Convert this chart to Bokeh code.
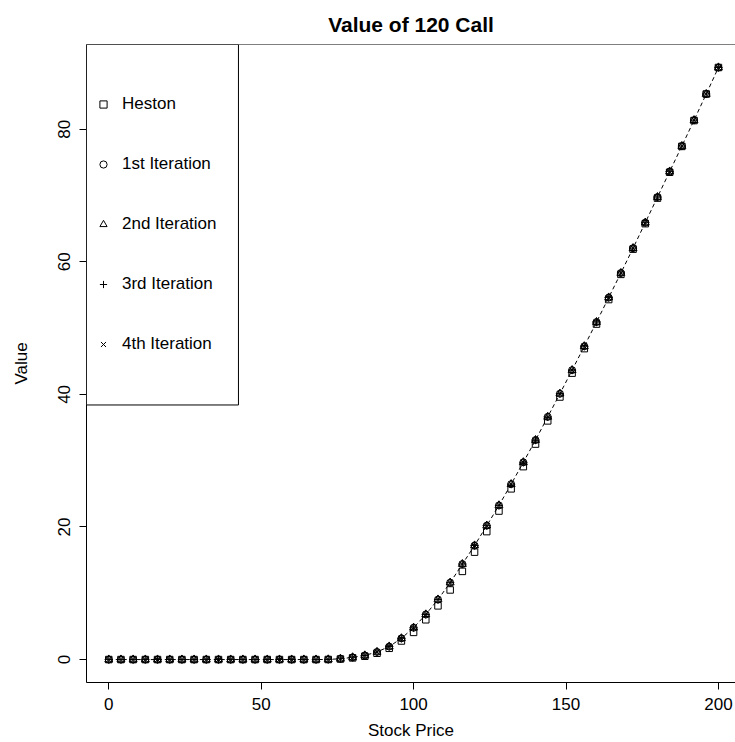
from bokeh.plotting import figure
from bokeh.models import Legend, LegendItem, Range1d, Span, BoxAnnotation
from bokeh.embed import file_html
from bokeh.resources import INLINE

# Stock prices from 0 to 200 in steps of 4
stock_price = list(range(0, 201, 4))

# Heston reference value of the 120-strike call
heston = [0.0] * 18 + [
    0.01, 0.08, 0.25, 0.5, 0.95, 1.7, 2.8, 4.1,
    6.0, 8.1, 10.5, 13.3, 16.2, 19.3, 22.4, 25.75,
    29.1, 32.5, 36.0, 39.6, 43.2, 46.9, 50.6, 54.3,
    58.1, 61.9, 65.75, 69.6, 73.5, 77.4, 81.3, 85.3,
    89.3,
]

# Successive iterations of the approximation
iter1 = [0.0] * 18 + [
    0.02, 0.12, 0.33, 0.62, 1.15, 1.96, 3.2, 4.8,
    6.8, 9.05, 11.6, 14.4, 17.2, 20.2, 23.25, 26.45,
    29.75, 33.1, 36.6, 40.1, 43.65, 47.25, 50.9, 54.6,
    58.3, 62.05, 65.9, 69.75, 73.6, 77.45, 81.35, 85.3,
    89.3,
]
iter2 = [0.0] * 18 + [
    0.02, 0.12, 0.33, 0.62, 1.15, 1.96, 3.2, 4.8,
    6.8, 9.05, 11.6, 14.4, 17.2, 20.2, 23.25, 26.45,
    29.75, 33.1, 36.6, 40.1, 43.65, 47.25, 50.9, 54.6,
    58.3, 62.05, 65.9, 69.75, 73.6, 77.45, 81.35, 85.3,
    89.3,
]
iter3 = [0.0] * 18 + [
    0.02, 0.12, 0.33, 0.62, 1.15, 1.96, 3.2, 4.8,
    6.8, 9.05, 11.6, 14.4, 17.2, 20.2, 23.25, 26.45,
    29.75, 33.1, 36.6, 40.1, 43.65, 47.25, 50.9, 54.6,
    58.3, 62.05, 65.9, 69.75, 73.6, 77.45, 81.35, 85.3,
    89.3,
]
iter4 = [0.0] * 18 + [
    0.02, 0.12, 0.33, 0.62, 1.15, 1.96, 3.2, 4.8,
    6.8, 9.05, 11.6, 14.4, 17.2, 20.2, 23.25, 26.45,
    29.75, 33.1, 36.6, 40.1, 43.65, 47.25, 50.9, 54.6,
    58.3, 62.05, 65.9, 69.75, 73.6, 77.45, 81.35, 85.3,
    89.3,
]

series_labels = ["Heston", "1st Iteration", "2nd Iteration", "3rd Iteration", "4th Iteration"]
x_ticks = [0, 50, 100, 150, 200]
y_ticks = [0, 20, 40, 60, 80]

FONT = "Liberation Sans"
X_LO, X_HI = -7.3, 205.6
Y_LO, Y_HI = -3.46, 92.77

p = figure(
    width=735, height=742,
    x_range=Range1d(X_LO, X_HI), y_range=Range1d(Y_LO, Y_HI),
    output_backend="svg", toolbar_location=None,
    min_border_left=86, min_border_right=0, min_border_top=44, min_border_bottom=59,
    title="Value of 120 Call",
)
p.outline_line_color = None
p.xgrid.visible = False
p.ygrid.visible = False
p.background_fill_color = "white"
p.border_fill_color = "white"

p.title.align = "center"
p.title.offset = 4
p.title.text_font = FONT
p.title.text_font_size = "21px"
p.title.text_font_style = "bold"
p.title.text_color = "black"
p.title.standoff = 18

for ax in (p.xaxis[0], p.yaxis[0]):
    ax.axis_line_color = "black"
    ax.major_tick_line_color = "black"
    ax.minor_tick_line_color = None
    ax.major_tick_in = 0
    ax.major_tick_out = 7
    ax.major_label_text_font = FONT
    ax.major_label_text_font_size = "17px"
    ax.major_label_text_color = "black"
    ax.axis_label_text_font = FONT
    ax.axis_label_text_font_size = "17px"
    ax.axis_label_text_font_style = "normal"
    ax.axis_label_text_color = "black"

p.xaxis.ticker = x_ticks
p.yaxis.ticker = y_ticks
p.xaxis.axis_label = "Stock Price"
p.yaxis.axis_label = "Value"
p.xaxis.major_label_standoff = 8
p.xaxis.axis_label_standoff = 8
p.yaxis.major_label_orientation = "vertical"
p.yaxis.major_label_standoff = 9
p.yaxis.axis_label_standoff = 25

# top edge of the plot box
p.add_layout(Span(location=Y_HI, dimension="width", line_color="black", line_width=1))

# dashed curve through the last iteration
p.line(stock_price, iter4, line_color="black", line_dash="4 3", line_width=1)

common = dict(line_color="black", fill_color=None, line_width=1)
r0 = p.scatter(stock_price, heston, marker="square", size=6.5, **common)
r1 = p.scatter(stock_price, iter1, marker="circle", size=7, **common)
r2 = p.scatter(stock_price, iter2, marker="triangle", size=8, **common)
r3 = p.scatter(stock_price, iter3, marker="cross", size=8, **common)
r4 = p.scatter(stock_price, iter4, marker="x", size=7, **common)

# framed white panel behind the legend entries
p.add_layout(BoxAnnotation(
    left=X_LO, right=42.55, top=Y_HI, bottom=38.4,
    fill_color="white", fill_alpha=1.0, line_color="black", line_width=1, line_alpha=1.0,
))

legend = Legend(
    items=[LegendItem(label=lab, renderers=[r]) for lab, r in zip(series_labels, [r0, r1, r2, r3, r4])],
    location=(8, 308), margin=0, padding=8, spacing=0,
    glyph_width=18, glyph_height=60, label_standoff=10, label_width=100,
    label_text_font=FONT, label_text_font_size="17px", label_text_color="black",
    border_line_color=None, background_fill_alpha=0.0,
)
p.add_layout(legend)

open("out.html", "w").write(file_html(p, INLINE))
